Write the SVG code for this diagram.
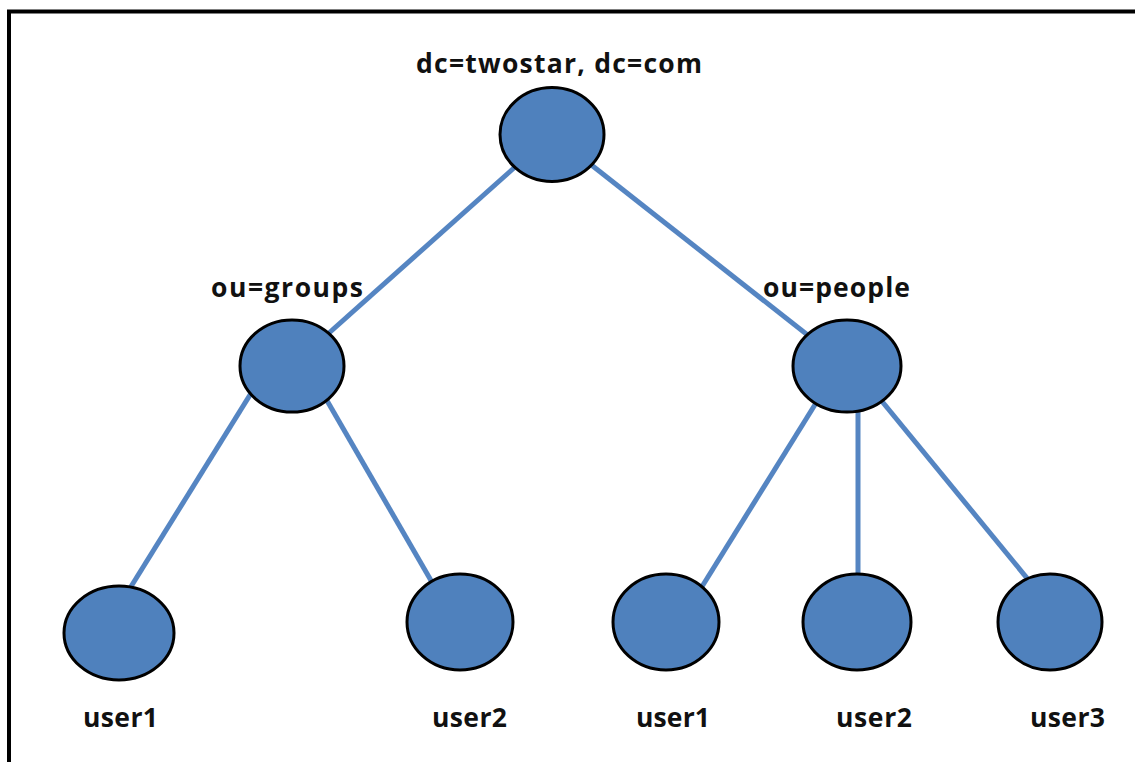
<svg xmlns="http://www.w3.org/2000/svg" width="1135" height="762" viewBox="0 0 1135 762">
<style>
.n{fill:#4f81bd;stroke:#000;stroke-width:3}
.c{stroke:#5585c2;stroke-width:5;fill:none}
.t{font-family:"Open Sans","Liberation Sans",sans-serif;font-weight:bold;font-size:26.5px;fill:#111}
</style>
<rect x="9" y="11.5" width="1140" height="770" fill="#fff" stroke="#000" stroke-width="4"/>
<g id="connectors">
<line class="c" x1="552" y1="134" x2="292" y2="366"/>
<line class="c" x1="552" y1="134" x2="847" y2="366"/>
<line class="c" x1="268" y1="366" x2="109" y2="622"/>
<line class="c" x1="307" y1="366" x2="455" y2="622"/>
<line class="c" x1="839" y1="366" x2="680" y2="622"/>
<line class="c" x1="858" y1="366" x2="858" y2="622"/>
<line class="c" x1="853" y1="366" x2="1063" y2="622"/>
</g>
<g id="root"><ellipse class="n" cx="552" cy="134.5" rx="52" ry="47"/><text class="t" x="416" y="73" textLength="286" lengthAdjust="spacing">dc=twostar, dc=com</text></g>
<g id="groups"><ellipse class="n" cx="292" cy="366" rx="52" ry="46"/><text class="t" x="211" y="297" textLength="152" lengthAdjust="spacing">ou=groups</text></g>
<g id="people"><ellipse class="n" cx="847" cy="366" rx="54" ry="46"/><text class="t" x="763" y="297" textLength="147" lengthAdjust="spacing">ou=people</text></g>
<g id="g-user1"><ellipse class="n" cx="119" cy="633" rx="55" ry="47"/><text class="t" x="83" y="727" textLength="75" lengthAdjust="spacing">user1</text></g>
<g id="g-user2"><ellipse class="n" cx="460" cy="622" rx="53" ry="48"/><text class="t" x="432" y="727" textLength="75" lengthAdjust="spacing">user2</text></g>
<g id="p-user1"><ellipse class="n" cx="666" cy="622" rx="53" ry="48"/><text class="t" x="636" y="727" textLength="74" lengthAdjust="spacing">user1</text></g>
<g id="p-user2"><ellipse class="n" cx="857" cy="622" rx="54" ry="48"/><text class="t" x="836" y="727" textLength="76" lengthAdjust="spacing">user2</text></g>
<g id="p-user3"><ellipse class="n" cx="1050" cy="622" rx="52" ry="48"/><text class="t" x="1030" y="727" textLength="75" lengthAdjust="spacing">user3</text></g>
</svg>
